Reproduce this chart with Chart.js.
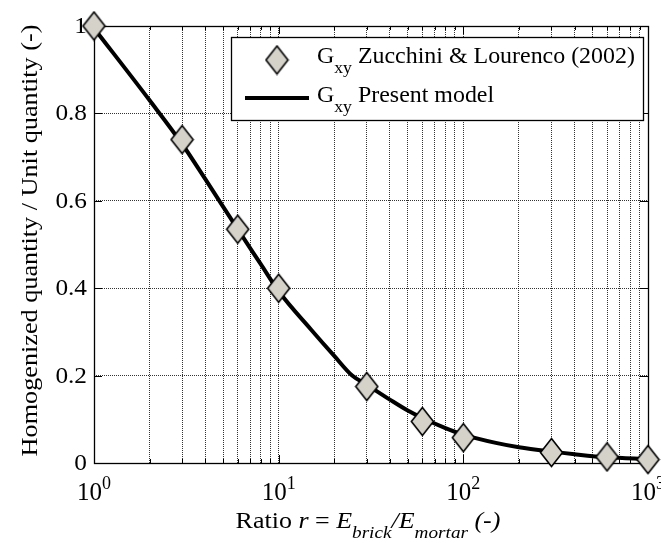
<!DOCTYPE html>
<html>
<head>
<meta charset="utf-8">
<script src="https://cdn.jsdelivr.net/npm/chart.js@4.4.1/dist/chart.umd.min.js"></script>
<style>
  html, body { margin: 0; padding: 0; background: #fff; }
  .container { width: 661px; height: 543px; }
</style>
</head>
<body>
<div class="container"><canvas id="chart" width="661" height="543"></canvas></div>
<script>
// Zucchini & Lourenco (2002) reference points
const expRatio = [1, 3, 6, 10, 30, 60, 100, 300, 600, 1000];
const expGxy = [1.0, 0.74, 0.535, 0.40, 0.175, 0.095, 0.058, 0.024, 0.014, 0.008];

// present model curve
const modelRatio = [1, 2, 3, 4, 6, 8, 10, 15, 20, 25, 30, 40, 50, 60, 80, 100, 150, 200, 300, 400, 600, 1000];
const modelGxy = [0.995, 0.83, 0.73, 0.65, 0.535, 0.455, 0.393, 0.305, 0.245, 0.2, 0.179, 0.145, 0.12, 0.103, 0.08, 0.065, 0.046, 0.036, 0.026, 0.02, 0.013, 0.009];

const yTicks = [0, 0.2, 0.4, 0.6, 0.8, 1];
const yTickLabels = ['0', '0.2', '0.4', '0.6', '0.8', '1'];
const xDecades = [1, 10, 100, 1000];
const xDecadeExp = ['0', '1', '2', '3'];

const FONT = '"Liberation Serif", "Times New Roman", serif';
const MARKER_FILL = '#d5d2ca';

// grid positions on the log axis: 1..9 per decade
const xGrid = [];
xDecades.forEach((d, i) => {
  if (i === xDecades.length - 1) { xGrid.push(d); return; }
  for (let m = 1; m < 10; m++) xGrid.push(d * m);
});

function makeDiamond() {
  const c = document.createElement('canvas');
  c.width = 25; c.height = 31;
  const g = c.getContext('2d');
  g.beginPath();
  g.moveTo(12.5, 1.5);
  g.lineTo(23.5, 15.5);
  g.lineTo(12.5, 29.5);
  g.lineTo(1.5, 15.5);
  g.closePath();
  g.fillStyle = MARKER_FILL;
  g.fill();
  g.lineWidth = 1.6;
  g.strokeStyle = '#000';
  g.stroke();
  return c;
}
const diamond = makeDiamond();

function fontOf(size, italic) {
  return (italic ? 'italic ' : '') + size + 'px ' + FONT;
}

// runs: [text, flags]  flags: i = italic, b = subscript, p = superscript
function runSize(flags, size) {
  return (flags.includes('b') || flags.includes('p')) ? Math.round(size * 0.72) : size;
}
function runsWidth(ctx, runs, size) {
  let w = 0;
  runs.forEach(([t, f]) => {
    ctx.font = fontOf(runSize(f, size), f.includes('i'));
    w += ctx.measureText(t).width;
  });
  return w;
}
function drawRuns(ctx, runs, x, y, size, opts) {
  opts = opts || {};
  const sx = opts.sx || 1;
  const w = runsWidth(ctx, runs, size);
  let start = 0;
  if (opts.align === 'center') start = -w / 2;
  if (opts.align === 'right') start = -w;
  ctx.save();
  ctx.translate(x, y);
  if (opts.rotate) ctx.rotate(opts.rotate);
  ctx.scale(sx, 1);
  ctx.fillStyle = '#000';
  ctx.textBaseline = 'alphabetic';
  ctx.textAlign = 'left';
  let cx = start;
  runs.forEach(([t, f]) => {
    ctx.font = fontOf(runSize(f, size), f.includes('i'));
    let dy = 0;
    if (f.includes('b')) dy = size * 0.45;
    if (f.includes('p')) dy = -size * 0.45;
    ctx.fillText(t, cx, dy);
    cx += ctx.measureText(t).width;
  });
  ctx.restore();
}

const decorPlugin = {
  id: 'decor',
  beforeDatasetsDraw(chart) {
    const ctx = chart.ctx;
    const a = chart.chartArea;
    const xs = chart.scales.x, ys = chart.scales.y;
    ctx.save();
    ctx.strokeStyle = '#000';
    ctx.lineWidth = 1;
    // inward ticks
    ctx.beginPath();
    xGrid.forEach(v => {
      const px = Math.round(xs.getPixelForValue(v)) + 0.5;
      const len = xDecades.includes(v) ? 8 : 4;
      ctx.moveTo(px, a.bottom); ctx.lineTo(px, a.bottom - len);
      ctx.moveTo(px, a.top); ctx.lineTo(px, a.top + len);
    });
    yTicks.forEach(v => {
      const py = Math.round(ys.getPixelForValue(v)) + 0.5;
      ctx.moveTo(a.left, py); ctx.lineTo(a.left + 8, py);
      ctx.moveTo(a.right, py); ctx.lineTo(a.right - 8, py);
    });
    ctx.stroke();
    // frame
    ctx.lineWidth = 1.3;
    ctx.strokeRect(Math.round(a.left) + 0.5, Math.round(a.top) + 0.5,
      Math.round(a.right - a.left), Math.round(a.bottom - a.top));
    ctx.restore();
  },
  afterDraw(chart) {
    const ctx = chart.ctx;
    const a = chart.chartArea;
    const xs = chart.scales.x, ys = chart.scales.y;

    // y tick labels
    yTicks.forEach((v, i) => {
      ctx.save();
      ctx.font = fontOf(23, false);
      ctx.textAlign = 'right';
      ctx.textBaseline = 'middle';
      ctx.fillStyle = '#000';
      const py = ys.getPixelForValue(v);
      ctx.translate(87, py);
      ctx.scale(1.1, 1);
      ctx.fillText(yTickLabels[i], 0, 1);
      ctx.restore();
    });

    // x tick labels 10^n
    xDecades.forEach((v, i) => {
      drawRuns(ctx, [['10', ''], [xDecadeExp[i], 'p']], xs.getPixelForValue(v), 500, 25, { align: 'center' });
    });

    // axis titles
    drawRuns(ctx, [['Ratio ', ''], ['r', 'i'], [' = ', ''], ['E', 'i'], ['brick', 'ib'], ['/E', 'i'], ['mortar', 'ib'], [' (-)', 'i']],
      (a.left + a.right) / 2 - 3, 528, 23, { align: 'center', sx: 1.13 });
    drawRuns(ctx, [['Homogenized quantity / Unit quantity (-)', '']],
      37, (a.top + a.bottom) / 2 - 4, 23, { align: 'center', rotate: -Math.PI / 2, sx: 1.14 });

    // legend
    ctx.save();
    ctx.fillStyle = '#fff';
    ctx.fillRect(231, 37, 413, 84);
    ctx.strokeStyle = '#000';
    ctx.lineWidth = 1.3;
    ctx.strokeRect(231.5, 37.5, 412, 83);
    ctx.drawImage(diamond, 277 - 12.5, 60 - 15.5);
    ctx.beginPath();
    ctx.lineWidth = 4;
    ctx.moveTo(245, 98);
    ctx.lineTo(309, 98);
    ctx.stroke();
    ctx.restore();
    drawRuns(ctx, [['G', ''], ['xy', 'b'], [' Zucchini & Lourenco (2002)', '']], 317, 63, 23, { sx: 1.04 });
    drawRuns(ctx, [['G', ''], ['xy', 'b'], [' Present model', '']], 317, 102, 23, { sx: 1.04 });
  }
};

const gridOpts = {
  drawTicks: false,
  color: 'rgba(0,0,0,0.8)',
  lineWidth: 1
};

const canvas = document.getElementById('chart');
const chart = new Chart(canvas, {
  type: 'line',
  data: {
    datasets: [{
      label: 'Gxy Present model',
      data: modelRatio.map((r, i) => ({ x: r, y: modelGxy[i] })),
      borderColor: '#000',
      borderWidth: 4,
      pointRadius: 0,
      cubicInterpolationMode: 'monotone',
      clip: false,
      order: 2
    }, {
      label: 'Gxy Zucchini & Lourenco (2002)',
      data: expRatio.map((r, i) => ({ x: r, y: expGxy[i] })),
      showLine: false,
      pointStyle: diamond,
      pointRadius: 12,
      clip: false,
      order: 1
    }]
  },
  options: {
    responsive: false,
    animation: false,
    layout: { padding: { left: 94, right: 7, top: 26, bottom: 80 } },
    plugins: {
      legend: { display: false },
      tooltip: { enabled: false }
    },
    scales: {
      x: {
        type: 'logarithmic',
        min: 1,
        max: 1000,
        afterBuildTicks: (scale) => { scale.ticks = xGrid.map(v => ({ value: v })); },
        ticks: { display: false },
        border: { display: false, dash: [1, 1] },
        grid: gridOpts
      },
      y: {
        min: 0,
        max: 1,
        afterBuildTicks: (scale) => { scale.ticks = yTicks.map(v => ({ value: v })); },
        ticks: { display: false },
        border: { display: false, dash: [1, 1] },
        grid: gridOpts
      }
    }
  },
  plugins: [decorPlugin]
});
</script>
</body>
</html>
